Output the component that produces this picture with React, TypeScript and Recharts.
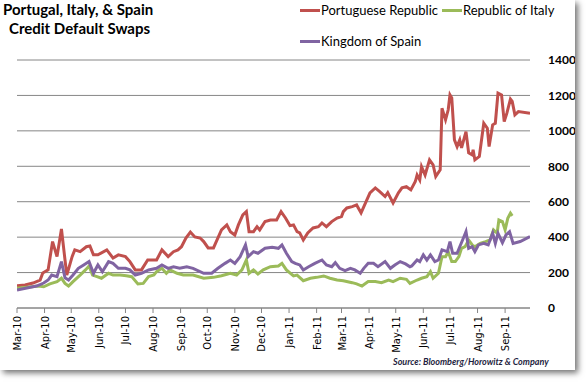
import React from 'react';
import { LineChart, Line, XAxis, YAxis, CartesianGrid } from 'recharts';

type Pt = [string, number];

// month ticks on the date axis
const monthDates = [
  '2010-03-01', '2010-04-01', '2010-05-01', '2010-06-01', '2010-07-01', '2010-08-01',
  '2010-09-01', '2010-10-01', '2010-11-01', '2010-12-01', '2011-01-01', '2011-02-01',
  '2011-03-01', '2011-04-01', '2011-05-01', '2011-06-01', '2011-07-01', '2011-08-01',
  '2011-09-01',
];
const monthLabels = [
  'Mar-10', 'Apr-10', 'May-10', 'Jun-10', 'Jul-10', 'Aug-10', 'Sep-10', 'Oct-10', 'Nov-10',
  'Dec-10', 'Jan-11', 'Feb-11', 'Mar-11', 'Apr-11', 'May-11', 'Jun-11', 'Jul-11', 'Aug-11',
  'Sep-11',
];
const yTicks = [0, 200, 400, 600, 800, 1000, 1200, 1400];
const endDate = '2011-09-29';

// CDS spreads (bp)
const portugal: Pt[] = [
  ['2010-03-01', 125], ['2010-03-10', 130], ['2010-03-19', 141], ['2010-03-27', 158],
  ['2010-03-30', 198], ['2010-04-05', 215], ['2010-04-10', 375], ['2010-04-15', 290],
  ['2010-04-20', 446], ['2010-04-24', 271], ['2010-04-26', 186], ['2010-05-02', 290],
  ['2010-05-05', 328], ['2010-05-11', 318], ['2010-05-18', 346], ['2010-05-22', 350],
  ['2010-05-26', 300], ['2010-05-31', 300], ['2010-06-10', 328], ['2010-06-17', 282],
  ['2010-06-23', 300], ['2010-07-01', 290], ['2010-07-06', 262], ['2010-07-12', 215],
  ['2010-07-19', 215], ['2010-07-26', 271], ['2010-08-01', 271], ['2010-08-05', 271],
  ['2010-08-11', 328], ['2010-08-18', 290], ['2010-08-24', 318], ['2010-08-29', 328],
  ['2010-09-02', 346], ['2010-09-07', 395], ['2010-09-12', 429], ['2010-09-17', 401],
  ['2010-09-23', 395], ['2010-09-27', 375], ['2010-10-02', 339], ['2010-10-08', 339],
  ['2010-10-12', 384], ['2010-10-17', 441], ['2010-10-23', 469], ['2010-10-27', 431],
  ['2010-11-01', 412], ['2010-11-05', 469], ['2010-11-10', 525], ['2010-11-14', 544],
  ['2010-11-17', 431], ['2010-11-22', 431], ['2010-11-26', 459], ['2010-11-29', 441],
  ['2010-12-05', 488], ['2010-12-11', 497], ['2010-12-18', 497], ['2010-12-23', 544],
  ['2010-12-28', 508], ['2011-01-02', 465], ['2011-01-06', 469], ['2011-01-10', 431],
  ['2011-01-13', 424], ['2011-01-17', 384], ['2011-01-22', 424], ['2011-01-28', 452],
  ['2011-02-03', 459], ['2011-02-07', 480], ['2011-02-12', 459], ['2011-02-18', 488],
  ['2011-02-24', 508], ['2011-03-01', 516], ['2011-03-03', 544], ['2011-03-07', 565],
  ['2011-03-13', 572], ['2011-03-18', 582], ['2011-03-23', 537], ['2011-03-28', 593],
  ['2011-04-02', 650], ['2011-04-08', 678], ['2011-04-13', 657], ['2011-04-19', 629],
  ['2011-04-22', 651], ['2011-04-28', 593], ['2011-05-04', 650], ['2011-05-08', 678],
  ['2011-05-13', 685], ['2011-05-18', 667], ['2011-05-23', 714], ['2011-05-25', 751],
  ['2011-05-28', 723], ['2011-05-30', 798], ['2011-06-03', 751], ['2011-06-08', 836],
  ['2011-06-12', 808], ['2011-06-15', 742], ['2011-06-20', 780], ['2011-06-22', 1128],
  ['2011-06-26', 1062], ['2011-06-29', 1119], ['2011-07-01', 1203], ['2011-07-03', 1186],
  ['2011-07-06', 949], ['2011-07-09', 911], ['2011-07-12', 949], ['2011-07-14', 904],
  ['2011-07-17', 959], ['2011-07-19', 996], ['2011-07-22', 876], ['2011-07-26', 864],
  ['2011-07-27', 893], ['2011-07-29', 836], ['2011-08-03', 855], ['2011-08-08', 1043],
  ['2011-08-12', 1015], ['2011-08-14', 911], ['2011-08-18', 1034], ['2011-08-21', 1043],
  ['2011-08-24', 1213], ['2011-08-28', 1203], ['2011-08-31', 1052], ['2011-09-03', 1100],
  ['2011-09-07', 1179], ['2011-09-09', 1166], ['2011-09-12', 1090], ['2011-09-16', 1109],
  ['2011-09-29', 1100],
];

const italy: Pt[] = [
  ['2010-03-01', 111], ['2010-03-12', 117], ['2010-03-25', 124], ['2010-03-31', 120],
  ['2010-04-07', 136], ['2010-04-15', 149], ['2010-04-20', 168], ['2010-04-24', 139],
  ['2010-04-28', 124], ['2010-05-03', 149], ['2010-05-11', 186], ['2010-05-17', 215],
  ['2010-05-21', 237], ['2010-05-25', 186], ['2010-05-30', 177], ['2010-06-04', 168],
  ['2010-06-12', 196], ['2010-06-17', 186], ['2010-06-25', 186], ['2010-07-02', 182],
  ['2010-07-08', 177], ['2010-07-15', 136], ['2010-07-21', 139], ['2010-07-27', 177],
  ['2010-08-02', 186], ['2010-08-05', 205], ['2010-08-11', 224], ['2010-08-16', 196],
  ['2010-08-20', 215], ['2010-08-28', 196], ['2010-09-04', 186], ['2010-09-15', 186],
  ['2010-09-27', 168], ['2010-10-08', 173], ['2010-10-17', 182], ['2010-10-27', 196],
  ['2010-11-03', 186], ['2010-11-09', 215], ['2010-11-14', 271], ['2010-11-17', 196],
  ['2010-11-22', 215], ['2010-11-27', 192], ['2010-12-03', 215], ['2010-12-11', 233],
  ['2010-12-20', 237], ['2010-12-24', 252], ['2010-12-29', 215], ['2011-01-06', 181],
  ['2011-01-10', 186], ['2011-01-17', 154], ['2011-01-25', 168], ['2011-02-01', 173],
  ['2011-02-09', 181], ['2011-02-16', 168], ['2011-02-24', 158], ['2011-03-03', 154],
  ['2011-03-13', 143], ['2011-03-18', 136], ['2011-03-24', 124], ['2011-03-31', 149],
  ['2011-04-08', 149], ['2011-04-15', 143], ['2011-04-23', 158], ['2011-04-28', 149],
  ['2011-05-06', 168], ['2011-05-13', 162], ['2011-05-17', 139], ['2011-05-25', 158],
  ['2011-05-30', 168], ['2011-06-05', 177], ['2011-06-09', 205], ['2011-06-12', 168],
  ['2011-06-18', 196], ['2011-06-22', 290], ['2011-06-26', 290], ['2011-06-29', 318],
  ['2011-07-03', 262], ['2011-07-07', 262], ['2011-07-11', 290], ['2011-07-14', 337],
  ['2011-07-18', 346], ['2011-07-22', 384], ['2011-07-26', 356], ['2011-07-29', 346],
  ['2011-08-04', 365], ['2011-08-10', 375], ['2011-08-15', 384], ['2011-08-19', 441],
  ['2011-08-23', 422], ['2011-08-25', 497], ['2011-08-29', 488], ['2011-09-01', 441],
  ['2011-09-04', 506], ['2011-09-07', 535], ['2011-09-09', 520],
];

const spain: Pt[] = [
  ['2010-03-01', 102], ['2010-03-12', 113], ['2010-03-23', 124], ['2010-03-31', 141],
  ['2010-04-05', 158], ['2010-04-09', 186], ['2010-04-15', 177], ['2010-04-20', 262],
  ['2010-04-24', 170], ['2010-04-28', 158], ['2010-05-03', 186], ['2010-05-09', 224],
  ['2010-05-15', 243], ['2010-05-21', 262], ['2010-05-26', 196], ['2010-05-31', 243],
  ['2010-06-05', 205], ['2010-06-12', 262], ['2010-06-17', 252], ['2010-06-23', 224],
  ['2010-07-01', 224], ['2010-07-06', 215], ['2010-07-12', 186], ['2010-07-19', 196],
  ['2010-07-27', 215], ['2010-08-05', 224], ['2010-08-11', 243], ['2010-08-18', 224],
  ['2010-08-24', 233], ['2010-08-31', 224], ['2010-09-08', 233], ['2010-09-15', 224],
  ['2010-09-27', 196], ['2010-10-06', 196], ['2010-10-13', 224], ['2010-10-21', 252],
  ['2010-10-27', 271], ['2010-11-01', 252], ['2010-11-07', 290], ['2010-11-13', 356],
  ['2010-11-16', 290], ['2010-11-22', 318], ['2010-11-27', 309], ['2010-12-05', 337],
  ['2010-12-13', 343], ['2010-12-20', 337], ['2010-12-24', 356], ['2010-12-29', 309],
  ['2011-01-04', 262], ['2011-01-08', 252], ['2011-01-13', 243], ['2011-01-17', 215],
  ['2011-01-23', 233], ['2011-01-30', 252], ['2011-02-07', 271], ['2011-02-12', 243],
  ['2011-02-18', 233], ['2011-02-22', 256], ['2011-02-27', 224], ['2011-03-05', 211],
  ['2011-03-11', 224], ['2011-03-16', 215], ['2011-03-22', 196], ['2011-03-26', 224],
  ['2011-03-31', 252], ['2011-04-06', 252], ['2011-04-11', 233], ['2011-04-19', 262],
  ['2011-04-25', 224], ['2011-04-30', 243], ['2011-05-06', 262], ['2011-05-12', 249],
  ['2011-05-17', 233], ['2011-05-19', 237], ['2011-05-25', 271], ['2011-05-28', 262],
  ['2011-06-01', 300], ['2011-06-05', 271], ['2011-06-09', 300], ['2011-06-14', 262],
  ['2011-06-18', 271], ['2011-06-22', 328], ['2011-06-28', 318], ['2011-07-01', 375],
  ['2011-07-04', 309], ['2011-07-09', 309], ['2011-07-12', 346], ['2011-07-16', 394],
  ['2011-07-19', 431], ['2011-07-22', 337], ['2011-07-26', 346], ['2011-07-29', 318],
  ['2011-08-02', 356], ['2011-08-08', 365], ['2011-08-13', 356], ['2011-08-18', 422],
  ['2011-08-21', 365], ['2011-08-24', 422], ['2011-08-29', 369], ['2011-09-02', 412],
  ['2011-09-06', 431], ['2011-09-10', 365], ['2011-09-18', 375], ['2011-09-29', 403],
];

const START = Date.UTC(2010, 2, 1);
const toDay = (s: string) => {
  const [y, m, d] = s.split('-').map(Number);
  return Math.round((Date.UTC(y, m - 1, d) - START) / 86400000);
};
const toRows = (pts: Pt[]) => pts.map(([d, v]) => ({ day: toDay(d), v }));

const monthTicks = monthDates.map(toDay);
const labelFor = (day: number) => monthLabels[monthTicks.indexOf(day)] ?? '';

const RED = '#C0504D';
const GREEN = '#9BBB59';
const PURPLE = '#8064A2';
const GRID = '#868686';

const MonthTick = ({ x, y, payload }: any) => (
  <g transform={`translate(${x},${y})`}>
    <text
      transform="rotate(-90)"
      x={-3}
      y={0}
      dy={4}
      textAnchor="end"
      fontSize={10}
      fontFamily="DejaVu Sans"
      fill="#000"
    >
      {labelFor(payload.value)}
    </text>
  </g>
);

const LegendItem = ({ color, label, left, top }: { color: string; label: string; left: number; top: number }) => (
  <div style={{ position: 'absolute', left, top, display: 'flex', alignItems: 'center', whiteSpace: 'nowrap' }}>
    <span style={{ display: 'inline-block', width: 20, height: 3, background: color, marginRight: 1 }} />
    <span style={{ fontSize: 13, fontFamily: 'Lato', color: '#000' }}>{label}</span>
  </div>
);

export default function App() {
  return (
    <div
      style={{
        position: 'absolute',
        left: 0,
        top: 0,
        width: 575,
        height: 370,
        background: '#fff',
        boxShadow: '3px 3px 6px rgba(0,0,0,0.55)',
        fontFamily: 'Lato',
      }}
    >
      <div style={{ position: 'absolute', left: 3, top: 0, fontSize: 15, fontWeight: 700, lineHeight: '19px', color: '#000' }}>
        Portugal, Italy, &amp; Spain
      </div>
      <div style={{ position: 'absolute', left: 9, top: 19, fontSize: 15, fontWeight: 700, lineHeight: '19px', color: '#000' }}>
        Credit Default Swaps
      </div>

      <LegendItem color={RED} label="Portuguese Republic" left={300} top={2} />
      <LegendItem color={GREEN} label="Republic of Italy" left={442} top={2} />
      <LegendItem color={PURPLE} label="Kingdom of Spain" left={300} top={33} />

      <LineChart
        width={575}
        height={370}
        margin={{ top: 60, right: 4, bottom: 7, left: 17 }}
        style={{ position: 'absolute', left: 0, top: 0 }}
      >
        <CartesianGrid vertical={false} stroke={GRID} yAxisId="r" />
        <XAxis
          type="number"
          dataKey="day"
          domain={[0, toDay(endDate)]}
          ticks={monthTicks}
          interval={0}
          tick={<MonthTick />}
          tickSize={5}
          tickMargin={0}
          height={55}
          stroke={GRID}
          allowDataOverflow
        />
        <YAxis yAxisId="l" orientation="left" width={0} domain={[0, 1400]} ticks={yTicks} tick={false} tickLine={false} stroke={GRID} />
        <YAxis
          yAxisId="r"
          orientation="right"
          width={41}
          domain={[0, 1400]}
          ticks={yTicks}
          axisLine={false}
          tickLine={false}
          tickMargin={12}
          tick={{ fontSize: 12, fontWeight: 700, fill: '#000', fontFamily: 'Lato' }}
        />
        <Line yAxisId="r" data={toRows(portugal)} dataKey="v" type="linear" stroke={RED} strokeWidth={3} dot={false} isAnimationActive={false} />
        <Line yAxisId="r" data={toRows(italy)} dataKey="v" type="linear" stroke={GREEN} strokeWidth={3} dot={false} isAnimationActive={false} />
        <Line yAxisId="r" data={toRows(spain)} dataKey="v" type="linear" stroke={PURPLE} strokeWidth={3} dot={false} isAnimationActive={false} />
      </LineChart>

      <div style={{ position: 'absolute', left: 393, top: 356, fontSize: 9, fontStyle: 'italic', fontWeight: 700, color: '#1F1F3F', whiteSpace: 'nowrap' }}>
        Source: Bloomberg/Horowitz &amp; Company
      </div>
    </div>
  );
}
